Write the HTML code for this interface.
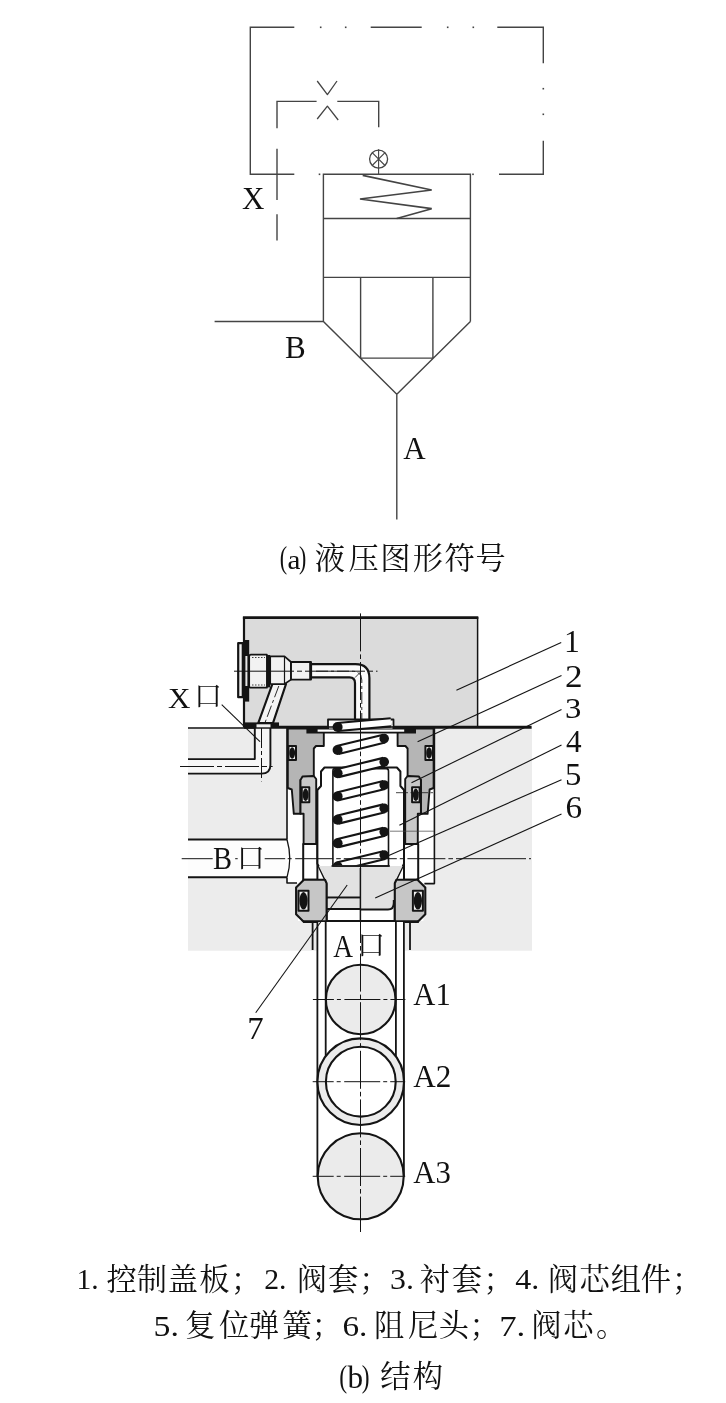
<!DOCTYPE html>
<html lang="zh">
<head>
<meta charset="utf-8">
<title>Hydraulic cartridge valve: symbol and structure</title>
<style>
html,body{margin:0;padding:0;background:#fff;}
body{width:726px;height:1403px;overflow:hidden;font-family:"Liberation Serif",serif;}
svg{display:block;will-change:transform;}
text{font-family:"Liberation Serif",serif;fill:#111;}
text.cjk{font-family:"Liberation Serif","Noto Serif CJK SC",serif;fill:#111;}
</style>
</head>
<body>
<svg width="726" height="1403" viewBox="0 0 726 1403">
<g id="symbol" fill="none" stroke="#444" stroke-width="1.4" stroke-linecap="butt">
<path d="M294.3 27.3H250.3V174.3H294.3 M370.7 27.3H421.7 M497.3 27.3H543.3V63.3 M543.3 140.7V174.3H499"/>
<g stroke="none" fill="#444"><rect x="319.9" y="26.5" width="1.6" height="1.6"/><rect x="344.9" y="26.5" width="1.6" height="1.6"/><rect x="446.9" y="26.5" width="1.6" height="1.6"/><rect x="472.5" y="26.5" width="1.6" height="1.6"/><rect x="542.5" y="87.9" width="1.6" height="1.6"/><rect x="542.5" y="113.5" width="1.6" height="1.6"/><rect x="472.2" y="173.5" width="1.6" height="1.6"/><rect x="318.7" y="173.5" width="1.6" height="1.6"/></g>
<path d="M277 128.2V101.4H316.6 M337.3 101.4H378.7V127.2 M277 148.7V200 M277 214.2V240.4"/>
<path d="M317.2 81L327.4 94.6L337 81 M317.2 119L327.4 106.2L338.2 120" stroke-width="1.3" stroke-linejoin="round"/>
<circle cx="378.6" cy="159.1" r="9" stroke-width="1.3"/>
<path d="M372.2 152.7L385 165.5 M385 152.7L372.2 165.5 M378.6 149.2V174.3" stroke-width="1.1"/>
<path d="M323.4 321.5V174.3H470.4V321.5 M323.4 218.5H470.4 M323.4 277.4H470.4 M360.6 277.4V358.1H432.9V277.4 M214.6 321.5H323.4L396.8 394.3L470.4 321.5 M396.8 394.3V519.4"/>
<path d="M362.7 175.3L431.7 190L360 199L431.7 208.7L396.7 218.5" stroke-width="1.7" stroke-linejoin="miter"/>
</g>
<text transform="translate(242.12 209.40) scale(0.983 1)" font-size="31.61" fill="#111">X</text>
<text transform="translate(284.91 357.61) scale(0.991 1)" font-size="31.32" fill="#111">B</text>
<text transform="translate(403.30 458.90) scale(0.972 1)" font-size="31.96" fill="#111">A</text>
<g id="structure" stroke-linejoin="round">
<rect x="188" y="727" width="344" height="223.7" fill="#ececec"/>
<rect x="244" y="617" width="233.5" height="110.5" fill="#dbdbdb"/>
<path d="M242.9 617.6H478.3" fill="none" stroke="#141414" stroke-width="2.7"/>
<path d="M244 617V727" fill="none" stroke="#141414" stroke-width="2.2"/>
<path d="M477.6 617V727" fill="none" stroke="#141414" stroke-width="1.5"/>
<path d="M188 759.1H254.8V728H270.4V765Q270.4 773.6 261.5 773.6H188Z" fill="#f6f6f6"/>
<path d="M188 759.1H254.8V728 M270.4 728V765Q270.4 773.6 261.5 773.6H188" fill="none" stroke="#141414" stroke-width="1.9"/>
<rect x="188" y="839.5" width="100" height="37.9" fill="#fdfdfd"/>
<path d="M188 839.6H287 M188 877.2H287" fill="none" stroke="#141414" stroke-width="2.0"/>
<path d="M287.0 728.0L434.4 728.0L434.4 883.0L423.4 883.0L423.4 921.0L298.0 921.0L298.0 883.0L287.0 883.0Z" fill="#fff"/>
<path d="M287 728V839.5 M287 877.4V883H297 M434.4 728V883.6H424.4" fill="none" stroke="#141414" stroke-width="1.6"/>
<path d="M287 839.5Q292.5 858.5 287 877.4" fill="none" stroke="#141414" stroke-width="1.3"/>
<path d="M287.8 728.5L323.8 728.5L323.8 746.0L316.0 746.0L313.8 748.5L313.8 776.0L300.5 780.0L300.5 813.8L293.8 813.8L291.8 789.5L287.8 788.0ZM433.6 728.5L397.6 728.5L397.6 746.0L405.4 746.0L407.6 748.5L407.6 776.0L420.9 780.0L420.9 813.8L427.6 813.8L429.6 789.5L433.6 788.0Z" fill="#b5b5b5" stroke="#141414" stroke-width="1.9"/>
<rect x="306.4" y="727.6" width="109.6" height="5.9" fill="#141414"/>
<rect x="317.6" y="729.5" width="86.6" height="2.2" fill="#fff"/>
<path d="M300.5 780.0L302.5 776.5L313.8 776.0L316.2 779.0L316.2 844.0L303.6 844.0L303.6 813.8L300.5 813.8ZM420.9 780.0L418.9 776.5L407.6 776.0L405.2 779.0L405.2 844.0L417.8 844.0L417.8 813.8L420.9 813.8Z" fill="#c9c9c9" stroke="#141414" stroke-width="1.9"/>
<rect x="288.5" y="746.0" width="7.5" height="14.0" fill="#f2f2f2" stroke="#141414" stroke-width="2.0"/><ellipse cx="292.2" cy="753.0" rx="2.9" ry="5.7" fill="#141414"/>
<rect x="425.4" y="746.0" width="7.5" height="14.0" fill="#f2f2f2" stroke="#141414" stroke-width="2.0"/><ellipse cx="429.1" cy="753.0" rx="2.9" ry="5.7" fill="#141414"/>
<rect x="301.8" y="787.3" width="7.5" height="15.0" fill="#f2f2f2" stroke="#141414" stroke-width="2.0"/><ellipse cx="305.6" cy="794.8" rx="2.9" ry="6.2" fill="#141414"/>
<rect x="412.1" y="787.3" width="7.5" height="15.0" fill="#f2f2f2" stroke="#141414" stroke-width="2.0"/><ellipse cx="415.8" cy="794.8" rx="2.9" ry="6.2" fill="#141414"/>
<path d="M303.2 844.0L317.4 844.0L317.4 879.7L303.2 879.7ZM418.2 844.0L404.0 844.0L404.0 879.7L418.2 879.7Z" fill="#fff" stroke="#141414" stroke-width="2.0"/>
<path d="M317.4 863.6L317.4 790.0L321.0 786.0L321.0 771.5L324.5 767.5L396.9 767.5L400.4 771.5L400.4 786.0L404.0 790.0L404.0 863.6L394.8 883.2L394.8 921.0L326.6 921.0L326.6 883.2Z" fill="#fff" stroke="#141414" stroke-width="2.0"/>
<path d="M318.8 866H360.4V897.5H327.6V884Z" fill="#e2e2e2"/>
<path d="M327.6 899H360.4V908.5H327.6Z" fill="#e2e2e2"/>
<path d="M360.4 866H402.6L393.8 884V903Q393.8 909.6 388 909.6H360.4Z" fill="#e2e2e2"/>
<path d="M393.8 900V903Q393.8 909.6 388 909.6H360.4" fill="none" stroke="#141414" stroke-width="2"/>
<path d="M360.4 868V921" fill="none" stroke="#141414" stroke-width="1.5"/>
<path d="M332.9 866V771Q332.9 768.6 335 768.6H386.4Q388.5 768.6 388.5 771V866Z" fill="#fff" stroke="#141414" stroke-width="1.6"/>
<path d="M303.9 879.7L296.1 887.4L296.1 914.2L303.9 922.0L326.6 922.0L326.6 883.2L325.0 879.7ZM417.5 879.7L425.3 887.4L425.3 914.2L417.5 922.0L394.8 922.0L394.8 883.2L396.4 879.7Z" fill="#c6c6c6" stroke="#141414" stroke-width="2.1"/>
<rect x="298.5" y="890.8" width="10.0" height="20.0" fill="#f2f2f2" stroke="#141414" stroke-width="2.0"/><ellipse cx="303.5" cy="900.8" rx="4.1" ry="8.7" fill="#141414"/>
<rect x="412.9" y="890.8" width="10.0" height="20.0" fill="#f2f2f2" stroke="#141414" stroke-width="2.0"/><ellipse cx="417.9" cy="900.8" rx="4.1" ry="8.7" fill="#141414"/>
<path d="M327 897.5H360.4 M327 909H360.4" fill="none" stroke="#141414" stroke-width="2.1"/>
<path d="M303 921.5H419" fill="none" stroke="#141414" stroke-width="2.4"/>
<rect x="328" y="719.5" width="65.5" height="8" fill="#fff" stroke="#141414" stroke-width="1.8"/>
<path d="M311 664.2H355.5Q369.4 664.2 369.4 678V719.5H355V683Q355 677.4 349.5 677.4H311Z" fill="#fafafa" stroke="#141414" stroke-width="2.2"/>
<path d="M272.4 684L258.3 723H273L286 684Z" fill="#f4f4f4" stroke="#141414" stroke-width="2.2"/>
<rect x="238.2" y="643.2" width="4.6" height="54" fill="#f0f0f0" stroke="#141414" stroke-width="2.2"/>
<rect x="244.6" y="640" width="4.6" height="61.6" fill="#141414"/>
<rect x="245.4" y="656" width="2" height="30" fill="#e6e6e6"/>
<path d="M251 654.7H266.9V687.7H251Q249.2 687.7 249.2 686V656.4Q249.2 654.7 251 654.7Z" fill="#f2f2f2" stroke="#141414" stroke-width="1.7"/>
<rect x="266.9" y="655" width="3.3" height="32.4" fill="#141414"/>
<path d="M270.2 656.4H284.5L291 662V679.6L284.5 684H270.2Z" fill="#f2f2f2" stroke="#141414" stroke-width="1.7"/>
<path d="M284.5 656.4V684" fill="none" stroke="#141414" stroke-width="1.2"/>
<rect x="291" y="662" width="20" height="17.6" fill="#f2f2f2" stroke="#141414" stroke-width="1.9"/>
<path d="M310.4 662V679.6" fill="none" stroke="#141414" stroke-width="2.4"/>
<path d="M252 657.5H265 M252 685H265" fill="none" stroke="#141414" stroke-width="0.8" stroke-dasharray="1.5 1.5"/>
<path d="M188 728H254.8" fill="none" stroke="#141414" stroke-width="1.5"/>
<path d="M244 727.3H531.6" fill="none" stroke="#141414" stroke-width="2.9"/>
<rect x="243.5" y="722.4" width="35.5" height="5.6" fill="#141414"/>
<rect x="256.5" y="724.3" width="14" height="3" fill="#f2f2f2"/>
<rect x="329" y="725" width="63.5" height="3.5" fill="#fff"/>
<path d="M324 727H397" fill="none" stroke="#141414" stroke-width="1.4"/>
<g clip-path="url(#cpSpring)"><clipPath id="cpSpring"><rect x="325" y="715" width="72" height="150.3"/></clipPath><path d="M337.6 727.0L391.0 722.3" stroke="#141414" stroke-width="10.2" fill="none"/><path d="M337.6 727.0L391.0 722.3" stroke="#fff" stroke-width="6.0" fill="none"/><path d="M337.6 750.0L384.2 738.6" stroke="#141414" stroke-width="10.2" fill="none"/><path d="M337.6 750.0L384.2 738.6" stroke="#fff" stroke-width="6.0" fill="none"/><path d="M337.6 773.2L384.2 761.8" stroke="#141414" stroke-width="10.2" fill="none"/><path d="M337.6 773.2L384.2 761.8" stroke="#fff" stroke-width="6.0" fill="none"/><path d="M337.6 796.4L384.2 785.0" stroke="#141414" stroke-width="10.2" fill="none"/><path d="M337.6 796.4L384.2 785.0" stroke="#fff" stroke-width="6.0" fill="none"/><path d="M337.6 819.7L384.2 808.3" stroke="#141414" stroke-width="10.2" fill="none"/><path d="M337.6 819.7L384.2 808.3" stroke="#fff" stroke-width="6.0" fill="none"/><path d="M337.6 843.2L384.2 831.8" stroke="#141414" stroke-width="10.2" fill="none"/><path d="M337.6 843.2L384.2 831.8" stroke="#fff" stroke-width="6.0" fill="none"/><path d="M337.6 866.5L384.2 855.1" stroke="#141414" stroke-width="10.2" fill="none"/><path d="M337.6 866.5L384.2 855.1" stroke="#fff" stroke-width="6.0" fill="none"/><circle cx="337.6" cy="727.0" r="5.0" fill="#141414"/><circle cx="337.6" cy="750.0" r="5.0" fill="#141414"/><circle cx="337.6" cy="773.2" r="5.0" fill="#141414"/><circle cx="337.6" cy="796.4" r="5.0" fill="#141414"/><circle cx="337.6" cy="819.7" r="5.0" fill="#141414"/><circle cx="337.6" cy="843.2" r="5.0" fill="#141414"/><circle cx="337.6" cy="866.5" r="5.0" fill="#141414"/><circle cx="384.2" cy="738.6" r="4.8" fill="#141414"/><circle cx="384.2" cy="761.8" r="4.8" fill="#141414"/><circle cx="384.2" cy="785.0" r="4.8" fill="#141414"/><circle cx="384.2" cy="808.3" r="4.8" fill="#141414"/><circle cx="384.2" cy="831.8" r="4.8" fill="#141414"/><circle cx="384.2" cy="855.1" r="4.8" fill="#141414"/></g>
<path d="M331.5 866H389.9" fill="none" stroke="#141414" stroke-width="1.6"/>
<rect x="317.3" y="922" width="87" height="30" fill="#fff"/>
<path d="M317.4 922V1176 M403.9 922V1176 M325.7 922V1081.7 M395.9 922V1081.7 M312.6 922V950 M410 922V950" fill="none" stroke="#141414" stroke-width="1.8"/>
<circle cx="360.7" cy="999.5" r="34.8" fill="#ebebeb" stroke="#141414" stroke-width="2.1"/>
<circle cx="360.7" cy="1081.7" r="43.3" fill="#ebebeb" stroke="#141414" stroke-width="2.1"/>
<circle cx="360.8" cy="1081.7" r="34.9" fill="#fff" stroke="#141414" stroke-width="2.1"/>
<circle cx="360.7" cy="1176.3" r="43" fill="#ebebeb" stroke="#141414" stroke-width="2.1"/>
<g fill="none" stroke="#141414" stroke-width="1">
<path d="M360.5 613.4V1232" stroke-dasharray="38 3 4.6 3"/>
<path d="M181.7 858.7H531" stroke-dasharray="31 22.5 2.5 27 20.5 2.5 4 3.5 38 3 4.6 3 53 3 4.6 3 38 3 4.6 3 70 3 4.6 3"/>
<path d="M234 671.2H377.5" stroke-dasharray="60 3 5 3"/>
<path d="M180 766.5H272.6" stroke-dasharray="34 3 5 3"/>
<path d="M261.5 728V781.4" stroke-dasharray="20 3 4 3"/>
<path d="M312.9 999.5H405.7 M312.7 1081.7H405.7 M312.7 1176.3H405.7" stroke-dasharray="21 3 4 3.5 36 3 4 3 15 9"/>
<path d="M316 671.2H352Q361.8 671.2 361.8 680V719 M278.8 686L264.5 724" stroke-dasharray="12 3 3 3" stroke-width="0.9"/>
<path d="M396 792.7H433" stroke-dasharray="12 2.5 3 2.5" stroke-width="0.8"/>
<path d="M390 831.2H434" stroke-width="0.7" stroke="#444"/>
<path d="M355 677.6L361 671.5" stroke-width="0.8"/>
</g>
<g fill="none" stroke="#141414" stroke-width="1.1">
<path d="M561.2 642.4L456.4 690.3"/>
<path d="M561.5 675.6L417.6 741.8"/>
<path d="M561.5 709.5L411.5 782.7"/>
<path d="M561.5 745.0L399.4 825.2"/>
<path d="M561.5 779.7L388.8 855.5"/>
<path d="M561.5 814.0L375.2 897.9"/>
<path d="M255.7 1012.7L347.2 885.0"/>
<path d="M221.7 704.7L260.0 741.7"/>
</g>
</g>
<text transform="translate(564.10 652.20) scale(1.024 1)" font-size="31.05" fill="#111">1</text>
<text transform="translate(565.05 686.60) scale(1.136 1)" font-size="30.96" fill="#111">2</text>
<text transform="translate(565.04 717.90) scale(1.076 1)" font-size="30.36" fill="#111">3</text>
<text transform="translate(565.99 751.60) scale(0.982 1)" font-size="31.75" fill="#111">4</text>
<text transform="translate(565.00 784.99) scale(1.037 1)" font-size="31.60" fill="#111">5</text>
<text transform="translate(565.47 817.89) scale(1.063 1)" font-size="31.26" fill="#111">6</text>
<text transform="translate(247.24 1039.30) scale(1.014 1)" font-size="32.38" fill="#111">7</text>
<text transform="translate(168.02 707.60) scale(1.054 1)" font-size="29.48" fill="#111">X</text>
<text transform="translate(212.98 869.11) scale(0.884 1)" font-size="32.23" fill="#111">B</text>
<text transform="translate(333.13 957.00) scale(0.895 1)" font-size="30.60" fill="#111">A</text>
<text transform="translate(413.30 1005.10) scale(0.949 1)" font-size="32.27" fill="#111">A1</text>
<text transform="translate(413.30 1087.20) scale(0.993 1)" font-size="31.41" fill="#111">A2</text>
<text transform="translate(413.30 1183.09) scale(0.975 1)" font-size="31.55" fill="#111">A3</text>
<text class="cjk" x="194" y="706" font-size="28" fill="#111">口</text>
<text class="cjk" x="236.8" y="867.7" font-size="28" fill="#111">口</text>
<text class="cjk" x="357.1" y="954.9" font-size="28" fill="#111">口</text>
<text transform="translate(279.72 568.05) scale(0.721 1)" font-size="30.77" fill="#111">(</text>
<text transform="translate(287.48 568.93) scale(1.048 1)" font-size="27.77" fill="#111">a</text>
<text transform="translate(298.90 568.05) scale(0.709 1)" font-size="30.77" fill="#111">)</text>
<text class="cjk" x="314.78 348.47 380.35 412.85 444.52 475.57" y="568.5" font-size="30.3" fill="#111">液压图形符号</text>
<text transform="translate(76.51 1289.39) scale(1.010 1)" font-size="29.21" fill="#111">1.</text>
<text class="cjk" x="106.58 136.69 167.66 199.23" y="1289.5" font-size="30.3" fill="#111">控制盖板</text>
<text class="cjk" x="231" y="1289.5" font-size="30.3" fill="#111">；</text>
<text transform="translate(264.20 1289.39) scale(1.019 1)" font-size="29.13" fill="#111">2.</text>
<text class="cjk" x="296.76 327.97" y="1289.5" font-size="30.3" fill="#111">阀套</text>
<text class="cjk" x="359.2" y="1289.5" font-size="30.3" fill="#111">；</text>
<text transform="translate(389.97 1289.39) scale(1.095 1)" font-size="29.13" fill="#111">3.</text>
<text class="cjk" x="419.49 451.72" y="1289.5" font-size="30.3" fill="#111">衬套</text>
<text class="cjk" x="483.6" y="1289.5" font-size="30.3" fill="#111">；</text>
<text transform="translate(515.18 1289.39) scale(1.089 1)" font-size="29.30" fill="#111">4.</text>
<text class="cjk" x="547.66 579.38 610.85 640.63" y="1289.5" font-size="30.3" fill="#111">阀芯组件</text>
<text class="cjk" x="671.9" y="1289.5" font-size="30.3" fill="#111">；</text>
<text transform="translate(153.53 1336.17) scale(1.127 1)" font-size="30.05" fill="#111">5.</text>
<text class="cjk" x="185.08 218.92 248.89 281.88" y="1336.4" font-size="30.3" fill="#111">复位弹簧</text>
<text class="cjk" x="311.7" y="1336.4" font-size="30.3" fill="#111">；</text>
<text transform="translate(342.47 1336.18) scale(1.118 1)" font-size="29.72" fill="#111">6.</text>
<text class="cjk" x="373.91 407.99 438.85" y="1336.4" font-size="30.3" fill="#111">阻尼头</text>
<text class="cjk" x="469.4" y="1336.4" font-size="30.3" fill="#111">；</text>
<text transform="translate(499.21 1336.17) scale(1.158 1)" font-size="30.05" fill="#111">7.</text>
<text class="cjk" x="531.21 563.33" y="1336.4" font-size="30.3" fill="#111">阀芯</text>
<text class="cjk" x="596" y="1336.4" font-size="30.3" fill="#111">。</text>
<text transform="translate(339.16 1387.09) scale(0.753 1)" font-size="31.54" fill="#111">(</text>
<text transform="translate(347.60 1388.08) scale(0.962 1)" font-size="32.40" fill="#111">b</text>
<text transform="translate(361.65 1387.09) scale(0.741 1)" font-size="31.54" fill="#111">)</text>
<text class="cjk" x="380.19 412.72" y="1386.8" font-size="30.3" fill="#111">结构</text>
</svg>
</body>
</html>
